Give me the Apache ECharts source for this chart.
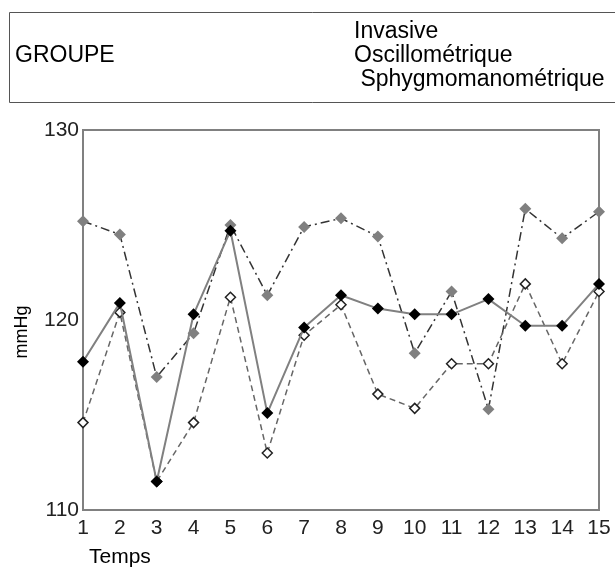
<!DOCTYPE html>
<html>
<head>
<meta charset="utf-8">
<script src="https://cdn.jsdelivr.net/npm/echarts@6/dist/echarts.min.js"></script>
<style>
  html, body { margin: 0; padding: 0; background: #fff; }
  #chart { width: 615px; height: 568px; }
</style>
</head>
<body>
<div id="chart"></div>
<script>
// time points
const temps = ['1','2','3','4','5','6','7','8','9','10','11','12','13','14','15'];
// series values (mmHg)
const invasive = [117.8, 120.9, 111.5, 120.3, 124.7, 115.1, 119.6, 121.3, 120.6, 120.3, 120.3, 121.1, 119.7, 119.7, 121.9];
const oscillo = [114.6, 120.4, 111.5, 114.6, 121.2, 113.0, 119.2, 120.8, 116.1, 115.35, 117.7, 117.7, 121.9, 117.7, 121.5];
const sphygmo = [125.2, 124.5, 117.0, 119.3, 125.0, 121.3, 124.9, 125.35, 124.4, 118.25, 121.5, 115.3, 125.85, 124.3, 125.7];
const names = ['Invasive', 'Oscillométrique', ' Sphygmomanométrique'];

const el = document.getElementById('chart');
const chart = echarts.init(el);
const font = 'Liberation Sans, Arial, sans-serif';

chart.setOption({
    animation: false,
    textStyle: { fontFamily: font },
    graphic: [
        {
            type: 'rect',
            shape: { x: 9.5, y: 12.5, width: 620, height: 90 },
            style: { fill: 'none', stroke: '#555', lineWidth: 1 }
        },
        {
            type: 'text',
            left: 15, top: 44,
            style: { text: 'GROUPE', fontSize: 23, fontFamily: font, fill: '#000' }
        }
    ],
    legend: {
        orient: 'vertical',
        left: 349,
        top: 20,
        icon: 'none',
        itemWidth: 0,
        itemHeight: 14,
        itemGap: 1,
        selectedMode: false,
        padding: 0,
        textStyle: { fontSize: 23, color: '#000', fontFamily: font },
        data: names
    },
    grid: {
        left: 83, right: 16, top: 130, bottom: 58,
        show: true, borderColor: '#808080', borderWidth: 2
    },
    xAxis: {
        type: 'category',
        data: temps,
        boundaryGap: false,
        name: 'Temps',
        nameLocation: 'start',
        nameGap: -6,
        nameTextStyle: { fontSize: 21, color: '#000', align: 'left', verticalAlign: 'top', padding: [37, 0, 0, 0] },
        axisLine: { lineStyle: { color: '#808080', width: 2 } },
        axisTick: { show: false },
        axisLabel: { fontSize: 21, color: '#222', margin: 8 }
    },
    yAxis: {
        type: 'value',
        min: 110, max: 130, interval: 10,
        name: 'mmHg',
        nameLocation: 'middle',
        nameGap: 52,
        nameTextStyle: { fontSize: 18, color: '#000', padding: [0, 24, 0, 0] },
        splitLine: { show: false },
        axisLine: { show: true, lineStyle: { color: '#808080', width: 2 } },
        axisTick: { show: false },
        axisLabel: { fontSize: 21, color: '#222', margin: 4 }
    },
    series: [
        {
            name: names[2],
            type: 'line',
            data: sphygmo,
            symbol: 'diamond',
            symbolSize: 12,
            itemStyle: { color: '#808080' },
            lineStyle: { color: '#333', width: 1.5, type: [9, 4, 2, 4] }
        },
        {
            name: names[1],
            type: 'line',
            data: oscillo,
            symbol: 'diamond',
            symbolSize: 10,
            itemStyle: { color: '#fff', borderColor: '#222', borderWidth: 1.5 },
            lineStyle: { color: '#666', width: 1.5, type: [6, 4] },
            z: 3
        },
        {
            name: names[0],
            type: 'line',
            data: invasive,
            symbol: 'diamond',
            symbolSize: 12,
            itemStyle: { color: '#000' },
            lineStyle: { color: '#808080', width: 2, type: 'solid' },
            z: 4
        }
    ]
});
window.addEventListener('resize', () => chart.resize());
</script>
</body>
</html>
